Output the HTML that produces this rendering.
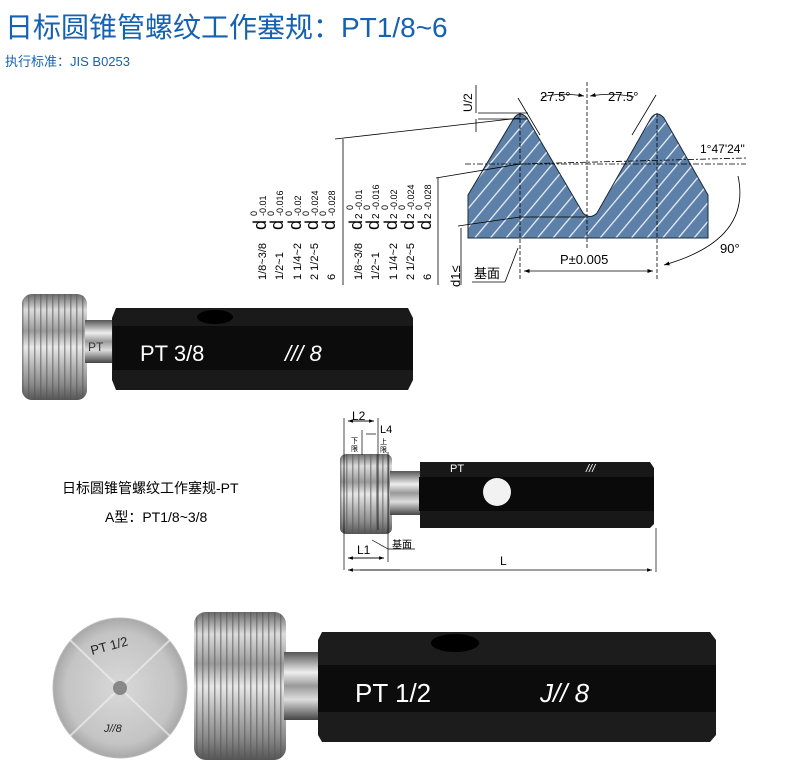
<!DOCTYPE html>
<html><head><meta charset="utf-8"><style>
html,body{margin:0;padding:0;background:#fff;}
svg{display:block;font-family:"Liberation Sans","Noto Sans CJK SC",sans-serif;}
</style></head><body>
<svg width="789" height="764" viewBox="0 0 789 764" xmlns="http://www.w3.org/2000/svg">
<defs>
<pattern id="hatch" width="12" height="12" patternUnits="userSpaceOnUse" patternTransform="rotate(40)">
<rect width="12" height="12" fill="#5d80a8"/><rect x="0" y="0" width="1.3" height="12" fill="#e8eef5"/>
</pattern>
<linearGradient id="thr" x1="0" y1="0" x2="0" y2="1">
<stop offset="0" stop-color="#6a6a6a"/><stop offset="0.15" stop-color="#dcdcdc"/><stop offset="0.35" stop-color="#9a9a9a"/><stop offset="0.5" stop-color="#e8e8e8"/><stop offset="0.7" stop-color="#b0b0b0"/><stop offset="0.85" stop-color="#8a8a8a"/><stop offset="1" stop-color="#555"/>
</linearGradient>
<pattern id="rib" width="6" height="200" patternUnits="userSpaceOnUse">
<rect x="4" width="1.5" height="200" fill="#555" opacity="0.55"/>
</pattern>
<linearGradient id="neck" x1="0" y1="0" x2="0" y2="1">
<stop offset="0" stop-color="#555"/><stop offset="0.3" stop-color="#eee"/><stop offset="0.5" stop-color="#999"/><stop offset="0.7" stop-color="#ddd"/><stop offset="1" stop-color="#444"/>
</linearGradient>
<radialGradient id="disk" cx="0.5" cy="0.5" r="0.5">
<stop offset="0" stop-color="#d8d8d8"/><stop offset="0.8" stop-color="#c4c4c4"/><stop offset="1" stop-color="#a8a8a8"/>
</radialGradient>
<marker id="ar" markerWidth="8" markerHeight="8" refX="7" refY="4" orient="auto"><path d="M0,1.5 L7,4 L0,6.5" fill="#000"/></marker>
</defs>

<text x="5" y="37" font-size="28" fill="#1462b0">日标圆锥管螺纹工作塞规：PT1/8~6</text>
<text x="5" y="66" font-size="13" fill="#1462b0">执行标准：JIS B0253</text>

<path d="M468,195 L514,118 Q520,110 527,118 L583,213 Q590,220 597,213 L651,118 Q657,110 664,118 L708,195 L708,238 L468,238 Z" fill="url(#hatch)" stroke="#1a2a3a" stroke-width="1"/>
<g stroke="#000" stroke-width="0.8" fill="none">
<line x1="518" y1="98" x2="540" y2="135"/>
<line x1="656" y1="95" x2="632" y2="135"/>
<line x1="587" y1="82" x2="587" y2="248" stroke-dasharray="4,2"/>
<line x1="520" y1="113" x2="520" y2="280" stroke-dasharray="4,2"/>
<line x1="657" y1="113" x2="657" y2="280" stroke-dasharray="4,2"/>
<line x1="465" y1="164" x2="746" y2="164" stroke-dasharray="6,2,2,2"/>
<line x1="520" y1="164" x2="746" y2="158" stroke-dasharray="6,2,2,2"/>
<line x1="478" y1="113" x2="528" y2="113"/>
<line x1="478" y1="119" x2="528" y2="119"/>
<line x1="476" y1="85" x2="476" y2="113"/><line x1="476" y1="119" x2="476" y2="132"/>
<line x1="335" y1="139" x2="520" y2="118"/>
<line x1="343" y1="139" x2="343" y2="285"/>
<line x1="436" y1="178" x2="520" y2="164"/>
<line x1="438" y1="178" x2="438" y2="285"/>
<line x1="458" y1="226" x2="520" y2="217"/><line x1="520" y1="217" x2="587" y2="217"/>
<line x1="461" y1="228" x2="461" y2="285"/>
<line x1="472" y1="282" x2="505" y2="282"/><line x1="505" y1="282" x2="518" y2="248"/>
<path d="M542,97 Q560,92 584,96" marker-end="url(#ar)"/><path d="M634,97 Q612,92 590,96" marker-end="url(#ar)"/>
<line x1="590" y1="271" x2="524" y2="271" marker-end="url(#ar)"/><line x1="590" y1="271" x2="653" y2="271" marker-end="url(#ar)"/>
<path d="M738,176 Q752,240 664,265" marker-end="url(#ar)"/>
</g>
<text x="540" y="101" font-size="13">27.5°</text>
<text x="608" y="101" font-size="13">27.5°</text>
<text x="700" y="153" font-size="12">1°47'24"</text>
<text x="720" y="253" font-size="13">90°</text>
<text x="560" y="264" font-size="13">P±0.005</text>
<text x="474" y="278" font-size="13">基面</text>
<text transform="translate(472,112) rotate(-90)" font-size="12">U/2</text>
<text transform="translate(460,287) rotate(-90)" font-size="13">d1≤</text>

<!-- rotated table -->
<g font-size="11">
<g transform="translate(266,280) rotate(-90)"><text x="0" y="0">1/8~3/8</text><text x="50" y="0" font-size="18">d</text><text x="64" y="-9" font-size="9">0</text><text x="64" y="0" font-size="9">-0.01</text></g>
<g transform="translate(283,280) rotate(-90)"><text x="0" y="0">1/2~1</text><text x="50" y="0" font-size="18">d</text><text x="64" y="-9" font-size="9">0</text><text x="64" y="0" font-size="9">-0.016</text></g>
<g transform="translate(301,280) rotate(-90)"><text x="0" y="0">1 1/4~2</text><text x="50" y="0" font-size="18">d</text><text x="64" y="-9" font-size="9">0</text><text x="64" y="0" font-size="9">-0.02</text></g>
<g transform="translate(318,280) rotate(-90)"><text x="0" y="0">2 1/2~5</text><text x="50" y="0" font-size="18">d</text><text x="64" y="-9" font-size="9">0</text><text x="64" y="0" font-size="9">-0.024</text></g>
<g transform="translate(335,280) rotate(-90)"><text x="0" y="0">6</text><text x="50" y="0" font-size="18">d</text><text x="64" y="-9" font-size="9">0</text><text x="64" y="0" font-size="9">-0.028</text></g>
<g transform="translate(362,280) rotate(-90)"><text x="0" y="0">1/8~3/8</text><text x="50" y="0" font-size="18">d</text><text x="61" y="0" font-size="10">2</text><text x="70" y="-9" font-size="9">0</text><text x="70" y="0" font-size="9">-0.01</text></g>
<g transform="translate(379,280) rotate(-90)"><text x="0" y="0">1/2~1</text><text x="50" y="0" font-size="18">d</text><text x="61" y="0" font-size="10">2</text><text x="70" y="-9" font-size="9">0</text><text x="70" y="0" font-size="9">-0.016</text></g>
<g transform="translate(397,280) rotate(-90)"><text x="0" y="0">1 1/4~2</text><text x="50" y="0" font-size="18">d</text><text x="61" y="0" font-size="10">2</text><text x="70" y="-9" font-size="9">0</text><text x="70" y="0" font-size="9">-0.02</text></g>
<g transform="translate(414,280) rotate(-90)"><text x="0" y="0">2 1/2~5</text><text x="50" y="0" font-size="18">d</text><text x="61" y="0" font-size="10">2</text><text x="70" y="-9" font-size="9">0</text><text x="70" y="0" font-size="9">-0.024</text></g>
<g transform="translate(431,280) rotate(-90)"><text x="0" y="0">6</text><text x="50" y="0" font-size="18">d</text><text x="61" y="0" font-size="10">2</text><text x="70" y="-9" font-size="9">0</text><text x="70" y="0" font-size="9">-0.028</text></g>
</g>

<!-- top gauge -->
<rect x="22" y="294" width="65" height="106" rx="10" fill="url(#thr)"/>
<rect x="22" y="294" width="65" height="106" rx="10" fill="url(#rib)"/>
<rect x="85" y="320" width="30" height="43" fill="url(#neck)"/>
<text x="88" y="351" font-size="12" fill="#333">PT</text>
<path d="M116,308 L408,308 L413,318 L413,380 L408,390 L116,390 L112,380 L112,318 Z" fill="#1a1a1a"/>
<rect x="113" y="326" width="300" height="44" fill="#0c0c0c"/>
<ellipse cx="215" cy="317" rx="18" ry="7" fill="#000"/>
<text x="140" y="361" font-size="22" fill="#fff">PT 3/8</text>
<text x="285" y="361" font-size="22" fill="#fff" font-style="italic">/// 8</text>

<!-- middle gauge -->
<text x="62" y="493" font-size="14">日标圆锥管螺纹工作塞规-PT</text>
<text x="105" y="522" font-size="14">A型：PT1/8~3/8</text>
<rect x="340" y="454" width="52" height="80" rx="6" fill="url(#thr)"/>
<rect x="340" y="454" width="52" height="80" rx="6" fill="url(#rib)"/>
<rect x="390" y="471" width="30" height="44" fill="url(#neck)"/>
<path d="M420,462 L650,462 L654,468 L654,524 L650,528 L420,528 Z" fill="#181818"/>
<rect x="419" y="477" width="235" height="34" fill="#0a0a0a"/>
<circle cx="497" cy="492" r="14" fill="#f2f2f2"/>
<text x="450" y="472" font-size="11" fill="#fff">PT</text>
<text x="586" y="472" font-size="11" fill="#fff" font-style="italic">///</text>
<g stroke="#000" stroke-width="0.7" fill="none">
<line x1="344" y1="418" x2="344" y2="570"/><line x1="378" y1="418" x2="378" y2="530"/>
<line x1="348" y1="421" x2="374" y2="421" marker-end="url(#ar)"/><line x1="374" y1="421" x2="348" y2="421" marker-end="url(#ar)"/>
<line x1="362" y1="430" x2="362" y2="455"/><line x1="366" y1="434" x2="376" y2="434"/>
<line x1="388" y1="452" x2="388" y2="562"/>
<line x1="348" y1="558" x2="384" y2="558" marker-end="url(#ar)"/><line x1="384" y1="558" x2="348" y2="558" marker-end="url(#ar)"/>
<line x1="656" y1="528" x2="656" y2="572"/>
<line x1="360" y1="570" x2="652" y2="570" marker-end="url(#ar)"/><line x1="400" y1="570" x2="348" y2="570" marker-end="url(#ar)"/>
<line x1="372" y1="540" x2="388" y2="549"/><line x1="388" y1="549" x2="415" y2="549"/>
</g>
<text x="352" y="420" font-size="12">L2</text>
<text x="380" y="433" font-size="11">L4</text>
<text x="351" y="443" font-size="7">下</text><text x="351" y="451" font-size="7">限</text>
<text x="380" y="444" font-size="7">上</text><text x="380" y="452" font-size="7">限</text>
<text x="357" y="554" font-size="12">L1</text>
<text x="392" y="548" font-size="10">基面</text>
<text x="500" y="565" font-size="12">L</text>

<!-- bottom -->
<ellipse cx="120" cy="688" rx="67" ry="70" fill="url(#disk)" stroke="#bbb"/>
<g stroke="#eee" stroke-width="2" opacity="0.7"><line x1="70" y1="640" x2="170" y2="736"/><line x1="170" y1="640" x2="70" y2="736"/></g>
<circle cx="120" cy="688" r="7" fill="#888"/>
<text transform="translate(92,655) rotate(-15)" font-size="13" fill="#222">PT 1/2</text>
<text x="104" y="732" font-size="11" fill="#222" font-style="italic">J//8</text>
<rect x="194" y="612" width="92" height="148" rx="12" fill="url(#thr)"/>
<rect x="194" y="612" width="92" height="148" rx="12" fill="url(#rib)"/>
<rect x="284" y="652" width="36" height="68" fill="url(#neck)"/>
<path d="M322,632 L710,632 L716,640 L716,735 L710,742 L322,742 L318,735 L318,640 Z" fill="#1c1c1c"/>
<rect x="318" y="665" width="398" height="47" fill="#0c0c0c"/>
<ellipse cx="455" cy="643" rx="24" ry="9" fill="#000"/>
<text x="355" y="702" font-size="26" fill="#fff">PT 1/2</text>
<text x="540" y="702" font-size="26" fill="#fff" font-style="italic">J// 8</text>
</svg>
</body></html>
